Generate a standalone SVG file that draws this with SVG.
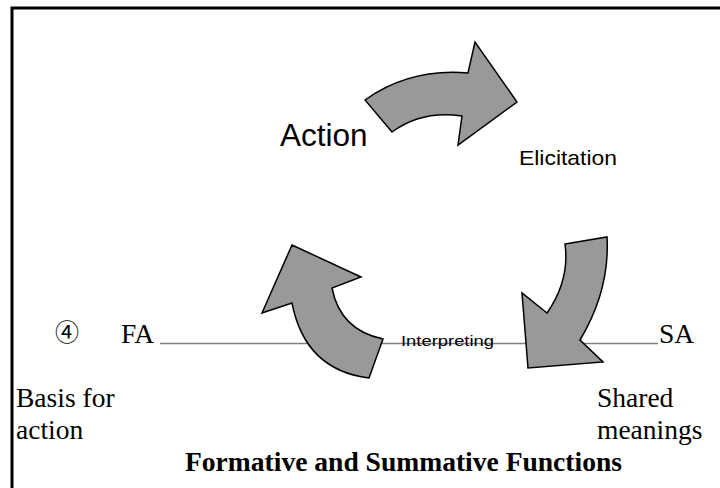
<svg xmlns="http://www.w3.org/2000/svg" width="720" height="488" viewBox="0 0 720 488">
<style>
.arrow{fill:#999999;stroke:#000;stroke-width:1.5;stroke-linejoin:miter}
.sans{font-family:"Liberation Sans",Arial,sans-serif;fill:#000}
.serif{font-family:"Liberation Serif","Times New Roman",serif;fill:#000;font-size:27.5px}
</style>
<rect width="720" height="488" fill="#fff"/>
<g id="frame" fill="none" stroke="#000" stroke-width="3">
<path d="M12,488 L12,8 L720,8"/>
</g>
<g id="connectors">
<line x1="160" y1="343.5" x2="658" y2="343.5" stroke="#808080" stroke-width="1.5"/>
</g>
<g id="interpreting">
<text class="sans" x="401" y="346" font-size="15" textLength="93" lengthAdjust="spacingAndGlyphs">Interpreting</text>
</g>
<g id="arrow-top">
<path class="arrow" d="M365,100 Q410,68 468,73 L475,42 L517,102 L458,145 L462,116 Q422,110 392,132 Z"/>
</g>
<g id="arrow-right">
<path class="arrow" d="M565,244 L607,237 Q610,290 580,340 L603,362 L528,368 L522,293 L547,313 Q570,280 565,244 Z"/>
</g>
<g id="arrow-left">
<path class="arrow" d="M292,245 L361,277 L332,288 Q340,330 383,339 L369,378 Q305,370 292,303 L262,313 Z"/>
</g>
<g id="action">
<text class="sans" x="280" y="146" font-size="31.5">Action</text>
</g>
<g id="elicitation">
<text class="sans" x="519" y="165" font-size="21" textLength="98" lengthAdjust="spacingAndGlyphs">Elicitation</text>
</g>
<g id="fa">
<text x="55" y="341" font-size="24" font-family="'Noto Sans CJK JP','Noto Sans CJK SC',sans-serif" fill="#000">④</text>
<text class="serif" x="121" y="343">FA</text>
<text class="serif" x="16" y="407">Basis for</text>
<text class="serif" x="16" y="439">action</text>
</g>
<g id="sa">
<text class="serif" x="659" y="343">SA</text>
<text class="serif" x="597" y="407">Shared</text>
<text class="serif" x="597" y="439">meanings</text>
</g>
<g id="title">
<text class="serif" x="185" y="471" font-weight="bold" textLength="437" lengthAdjust="spacingAndGlyphs">Formative and Summative Functions</text>
</g>
</svg>
